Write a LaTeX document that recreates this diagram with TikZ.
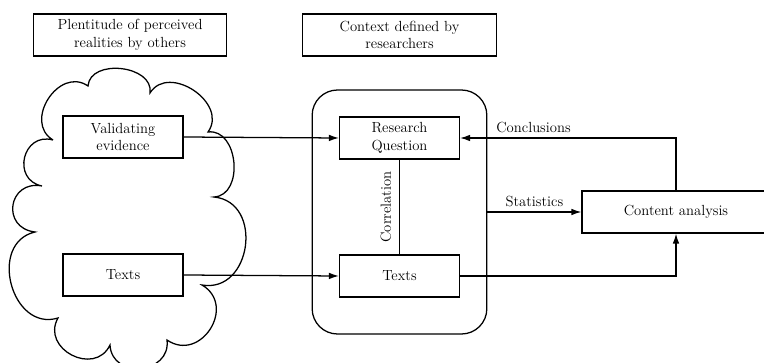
\documentclass[tikz,border=0pt]{standalone}
\usepackage{tikz}
\usetikzlibrary{
  positioning,
  arrows.meta
}

\begin{document}
\begin{tikzpicture}[x=0.75pt, y=-0.75pt, align=center, line width=0.95pt,
  every node/.style={font=\fontsize{11}{13}\selectfont},
  head/.style={draw, rectangle, minimum width=145pt, minimum height=31.5pt},
  item/.style={draw, rectangle, minimum width=90pt, minimum height=31.5pt},
  analysis/.style={draw, rectangle, minimum width=141pt, minimum height=31.5pt},
  context/.style={draw, rectangle, rounded corners=19pt, minimum width=131pt, minimum height=183pt},
  puff/.style={bend left=92, looseness=#1},
  arrow/.style={-{Latex[length=7.5pt, width=5pt]}}
]

\clip (0,0) rectangle (764,363);

% Cloud
\draw (53,140) to[puff=1.4] (88,86) to[puff=1.15] (150,93)
  to[puff=1.3] (208,132) to[puff=1.2] (214,197) to[puff=1.45] (202,285)
  to[puff=1.6] (167,340) to[puff=1.55] (110,345) to[puff=1.55] (58,318)
  to[puff=1.4] (35,232) to[puff=1.9] (42,186) to[puff=1.7] (53,140);

% Nodes
\node[head] (plenty) at (130,35) {Plentitude of perceived\\ realities by others};
\node[head] (defined) at (399.5,35) {Context defined by\\ researchers};

\node[item] (evidence) at (123,137) {Validating\\ evidence};
\node[item] (texts1) at (123,275) {Texts};

\node[context] (box) at (399.5,212) {};
\node[item] (question) at (399.5,138) {Research\\ Question};
\node[item] (texts2) at (399.5,276) {Texts};

\node[analysis] (content) at (676,212) {Content analysis};

% Arrows
\draw[arrow] (evidence.east) -- (question.west);
\draw[arrow] (texts1.east) -- (texts2.west);
\draw (texts2.north) -- node[midway, sloped, above=2.5pt] {Correlation} (question.south);
\draw[arrow] (box.east) -- node[midway, above] {Statistics} (content.west);
\draw[arrow] (content.north) |- node[pos=0.83, above] {Conclusions} (question.east);
\draw[arrow] (texts2.east) -| (content.south);

\end{tikzpicture}
\end{document}
